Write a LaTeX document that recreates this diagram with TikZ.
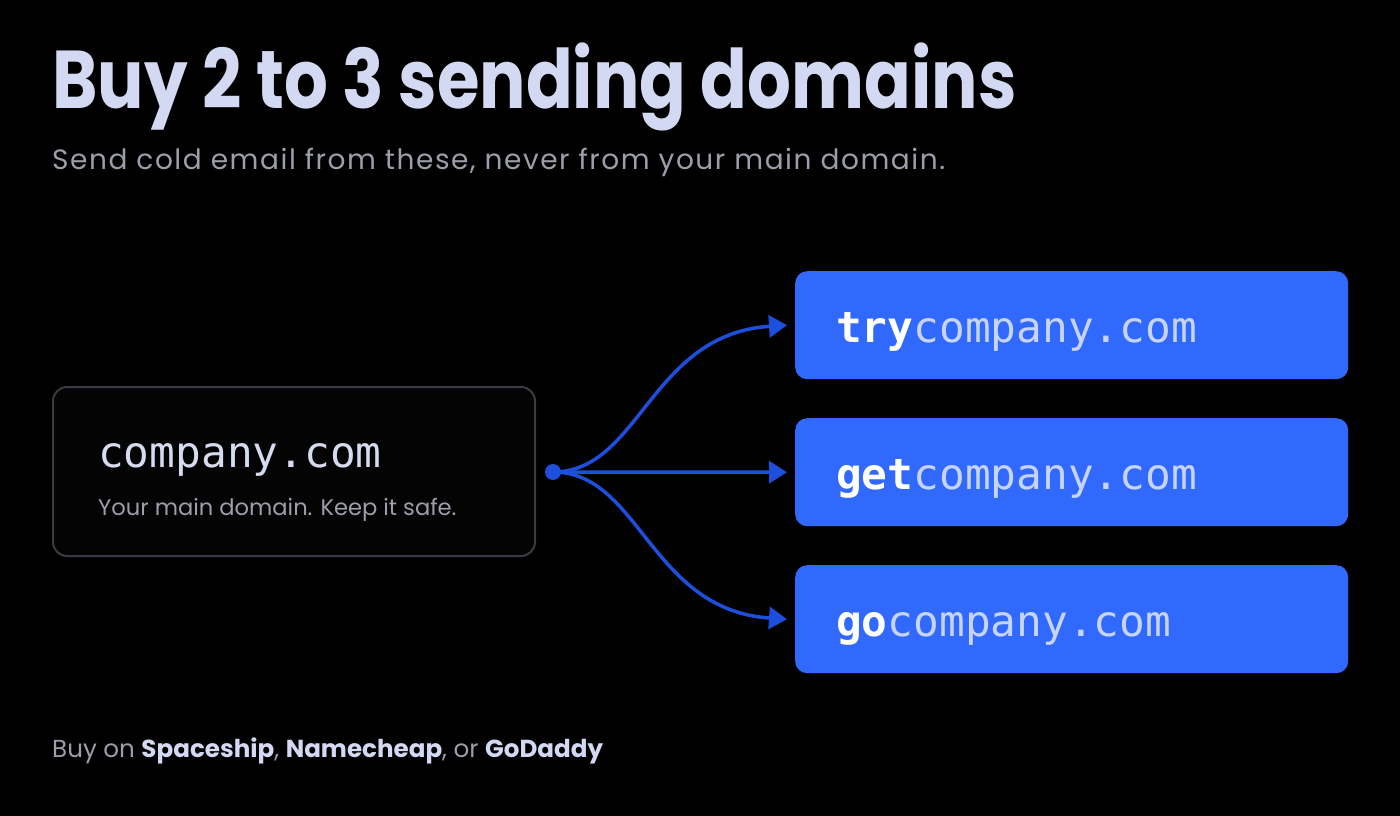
\documentclass[tikz,border=0pt]{standalone}
\usepackage{fontspec}
\setmainfont{Poppins}
\newfontfamily\monofont{DejaVu Sans Mono}
\usetikzlibrary{arrows.meta}
\definecolor{bgc}{HTML}{000000}
\definecolor{titlec}{HTML}{D3D9F2}
\definecolor{subc}{HTML}{9C9EAA}
\definecolor{boxline}{HTML}{3A3B44}
\definecolor{boxfill}{HTML}{040405}
\definecolor{mainmono}{HTML}{D6DBF0}
\definecolor{blueboxc}{HTML}{3069FB}
\definecolor{arrowc}{HTML}{1E4FDC}
\definecolor{lightmono}{HTML}{C6D4FF}
\tikzset{
  bluebox/.style={fill=blueboxc, rounded corners=12pt, minimum width=553pt, minimum height=108pt, inner sep=0pt},
  flowline/.style={draw=arrowc, line width=3.5pt, -{Triangle[length=18pt,width=22pt]}},
}
\begin{document}
\begin{tikzpicture}[x=1pt,y=-1pt]
\fill[bgc] (0,0) rectangle (1400,816);
\useasboundingbox (0,0) rectangle (1400,816);
% title
\node[anchor=base west, inner sep=0pt, text=titlec, font=\fontsize{82}{90}\selectfont\bfseries] (title) at (52,108) {\scalebox{0.84}[1]{Buy 2 to 3 sending domains}};
\node[anchor=base west, inner sep=0pt, text=subc, font=\fontsize{28}{32}\selectfont\addfontfeature{LetterSpace=5.5}] (sub) at (52,169) {Send cold email from these, never from your main domain.};
% main box
\draw[boxline, fill=boxfill, line width=2pt, rounded corners=14pt] (53,387) rectangle (535,556);
\node[anchor=base west, inner sep=0pt, text=mainmono, font=\monofont\fontsize{42.8}{50}\selectfont] (main) at (98,467) {company.com};
\node[anchor=base west, inner sep=0pt, text=subc, font=\fontsize{22.6}{26}\selectfont] (mainsub) at (98,515) {Your main domain. Keep it safe.};
% blue boxes
\node[bluebox, anchor=north west] (b1) at (795,271) {};
\node[bluebox, anchor=north west] (b2) at (795,418) {};
\node[bluebox, anchor=north west] (b3) at (795,565) {};
\node[anchor=base west, inner sep=0pt, font=\monofont\fontsize{42.8}{50}\selectfont] (t1) at (836,342) {\textcolor{white}{\bfseries try}\textcolor{lightmono}{company.com}};
\node[anchor=base west, inner sep=0pt, font=\monofont\fontsize{42.8}{50}\selectfont] (t2) at (836,489) {\textcolor{white}{\bfseries get}\textcolor{lightmono}{company.com}};
\node[anchor=base west, inner sep=0pt, font=\monofont\fontsize{42.8}{50}\selectfont] (t3) at (836,636) {\textcolor{white}{\bfseries go}\textcolor{lightmono}{company.com}};
% connectors
\coordinate (hub) at (553,472);
\coordinate (e1) at ([xshift=-8pt]b1.west);
\coordinate (e2) at ([xshift=-8pt]b2.west);
\coordinate (e3) at ([xshift=-8pt]b3.west);
\draw[flowline] (hub) .. controls (640,472) and (650,334) .. (e1);
\draw[flowline] (hub) -- (e2);
\draw[flowline] (hub) .. controls (640,472) and (650,610) .. (e3);
\fill[arrowc] (hub) circle (8pt);
% footer
\node[anchor=base west, inner sep=0pt, font=\fontsize{24.6}{28}\selectfont] (foot) at (52,757) {\textcolor{subc}{Buy on }\textcolor{titlec}{\bfseries Spaceship}\textcolor{subc}{, }\textcolor{titlec}{\bfseries Namecheap}\textcolor{subc}{, or }\textcolor{titlec}{\bfseries GoDaddy}};
\end{tikzpicture}
\end{document}
